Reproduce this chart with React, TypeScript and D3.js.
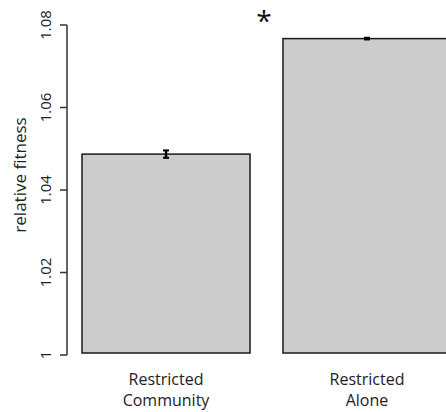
import { useEffect, useRef } from 'react';
import * as d3 from 'd3';

const categories = ['Restricted\nCommunity', 'Restricted\nAlone'];
const fitness = [1.0487, 1.0767];
const errors = [0.0009, 0.0002];
const yTicks = [1, 1.02, 1.04, 1.06, 1.08];
const yTickLabels = ['1', '1.02', '1.04', '1.06', '1.08'];
const significant = [false, true];

const W = 446;
const H = 412;

export default function App() {
  const svgRef = useRef<SVGSVGElement>(null);

  useEffect(() => {
    if (!svgRef.current) return;
    const svg = d3.select(svgRef.current);
    svg.selectAll('*').remove();

    const font = '"Open Sans", "DejaVu Sans", sans-serif';

    const y = d3.scaleLinear().domain([1, 1.08]).range([355, 25]);
    const x = d3.scaleBand<number>()
      .domain(categories.map((_, i) => i))
      .range([82, 451])
      .paddingInner(0.164)
      .paddingOuter(0);

    // bars
    svg.selectAll('rect.bar')
      .data(fitness)
      .enter()
      .append('rect')
      .attr('class', 'bar')
      .attr('x', (_, i) => x(i)!)
      .attr('y', d => y(d))
      .attr('width', x.bandwidth())
      .attr('height', d => y(1) - y(d) - 2)
      .attr('fill', '#cccccc')
      .attr('stroke', '#1a1a1a')
      .attr('stroke-width', 1.5);

    // error bars
    fitness.forEach((v, i) => {
      const cx = x(i)! + x.bandwidth() / 2;
      const g = svg.append('g').attr('stroke', '#000').attr('stroke-width', 1.5);
      g.append('line')
        .attr('x1', cx).attr('x2', cx)
        .attr('y1', y(v + errors[i])).attr('y2', y(v - errors[i]))
        .attr('stroke-width', 2.5);
      [v + errors[i], v - errors[i]].forEach(e => {
        g.append('line')
          .attr('x1', cx - 3).attr('x2', cx + 3)
          .attr('y1', y(e)).attr('y2', y(e))
          .attr('stroke-width', 2);
      });
      if (significant[i]) {
        svg.append('text')
          .attr('x', x(i)! - 19)
          .attr('y', 31)
          .attr('text-anchor', 'middle')
          .attr('font-family', font)
          .attr('font-size', 28)
          .attr('fill', '#111')
          .text('*');
      }
    });

    // y axis
    const axis = svg.append('g').attr('stroke', '#333').attr('stroke-width', 1.5);
    axis.append('line')
      .attr('x1', 67).attr('x2', 67)
      .attr('y1', y(1.08)).attr('y2', y(1));
    yTicks.forEach((t, i) => {
      axis.append('line')
        .attr('x1', 60).attr('x2', 67)
        .attr('y1', y(t)).attr('y2', y(t));
      svg.append('text')
        .attr('transform', `translate(51,${y(t)}) rotate(-90)`)
        .attr('text-anchor', 'middle')
        .attr('font-family', font)
        .attr('font-size', 15)
        .attr('fill', '#222')
        .text(yTickLabels[i]);
    });

    svg.append('text')
      .attr('transform', `translate(26,${(y(1) + y(1.08)) / 2 - 15}) rotate(-90)`)
      .attr('text-anchor', 'middle')
      .attr('font-family', font)
      .attr('font-size', 17)
      .attr('fill', '#222')
      .text('relative fitness');

    // category labels
    categories.forEach((c, i) => {
      const cx = i === 1 ? 367 : x(i)! + x.bandwidth() / 2;
      c.split('\n').forEach((line, j) => {
        svg.append('text')
          .attr('x', cx)
          .attr('y', 385 + j * 21)
          .attr('text-anchor', 'middle')
          .attr('font-family', font)
          .attr('font-size', 16)
          .attr('fill', '#222')
          .text(line);
      });
    });
  }, []);

  return (
    <svg
      ref={svgRef}
      width={W}
      height={H}
      style={{ position: 'absolute', left: 0, top: 0, background: '#fff' }}
    />
  );
}
